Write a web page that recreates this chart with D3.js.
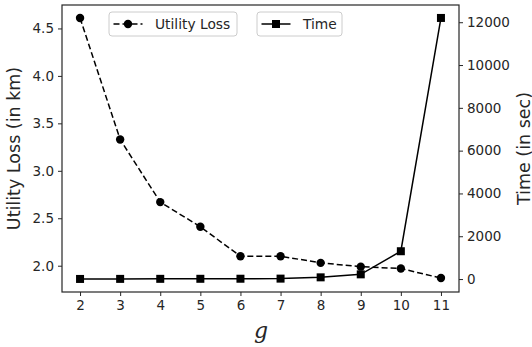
<!DOCTYPE html>
<html><head><meta charset="utf-8">
<script src="https://cdn.jsdelivr.net/npm/d3@7"></script>
<style>
body{margin:0;background:#fff;}
svg text{font-family:"DejaVu Sans",sans-serif;fill:#262626;}
</style></head>
<body><svg id="c" width="532" height="347"></svg>
<script>
const gValues = [2,3,4,5,6,7,8,9,10,11];
const utilityLoss = [4.61,3.33,2.67,2.41,2.10,2.10,2.03,1.99,1.97,1.87];
const timeSec = [5,8,10,12,15,20,80,220,1300,12200];
const leftTicks = [2.0,2.5,3.0,3.5,4.0,4.5];
const rightTicks = [0,2000,4000,6000,8000,10000,12000];
const xLabel = "g";
const leftLabel = "Utility Loss (in km)";
const rightLabel = "Time (in sec)";
const legendNames = ["Utility Loss","Time"];

const svg = d3.select("#c");
const L=62,R=459,T=5,B=292;
const x = d3.scaleLinear().domain([1.55,11.45]).range([L,R]);
const yL = d3.scaleLinear().domain([1.723,4.747]).range([B,T]);
const yR = d3.scaleLinear().domain([-605,12805]).range([B,T]);

const tickLen=4, col="#262626";
// left axis
const ga = svg.append("g").attr("transform",`translate(${L},0)`)
 .call(d3.axisLeft(yL).tickValues(leftTicks).tickFormat(d3.format(".1f")).tickSize(tickLen).tickPadding(4));
const gr = svg.append("g").attr("transform",`translate(${R},0)`)
 .call(d3.axisRight(yR).tickValues(rightTicks).tickFormat(d=>String(d)).tickSize(tickLen).tickPadding(4));
const gb = svg.append("g").attr("transform",`translate(0,${B})`)
 .call(d3.axisBottom(x).tickValues(gValues).tickFormat(d=>String(d)).tickSize(tickLen).tickPadding(4));
[ga,gr,gb].forEach(g=>{
  g.select(".domain").remove();
  g.selectAll("line").attr("stroke",col).attr("stroke-width",1);
  g.selectAll("text").style("font-size","13.5px").style("font-family","DejaVu Sans").attr("fill",col);
});
// frame
svg.append("rect").attr("x",L).attr("y",T).attr("width",R-L).attr("height",B-T)
 .attr("fill","none").attr("stroke",col).attr("stroke-width",1.2);

// lines
const lineU = d3.line().x((d,i)=>x(gValues[i])).y(d=>yL(d));
const lineT = d3.line().x((d,i)=>x(gValues[i])).y(d=>yR(d));
svg.append("path").attr("d",lineU(utilityLoss)).attr("fill","none").attr("stroke","#000")
 .attr("stroke-width",1.5).attr("stroke-dasharray","6,3");
svg.selectAll(".cu").data(utilityLoss).enter().append("circle")
 .attr("cx",(d,i)=>x(gValues[i])).attr("cy",d=>yL(d)).attr("r",4.2).attr("fill","#000");
svg.append("path").attr("d",lineT(timeSec)).attr("fill","none").attr("stroke","#000").attr("stroke-width",1.5);
const s=8;
svg.selectAll(".sq").data(timeSec).enter().append("rect")
 .attr("x",(d,i)=>x(gValues[i])-s/2).attr("y",d=>yR(d)-s/2).attr("width",s).attr("height",s).attr("fill","#000");

// labels
svg.append("text").attr("transform","translate(20,148.5) rotate(-90)").attr("text-anchor","middle")
 .style("font-size","17.5px").text(leftLabel);
svg.append("text").attr("transform","translate(530,148.5) rotate(-90)").attr("text-anchor","middle")
 .style("font-size","17.5px").text(rightLabel);
svg.append("text").attr("x",261).attr("y",338).attr("text-anchor","middle")
 .style("font-family","'DejaVu Serif',serif").style("font-style","italic").style("font-size","22px").attr("fill","#000").text(xLabel);

// legends
function legend(x0,w,name,type){
  const g=svg.append("g");
  g.append("rect").attr("x",x0).attr("y",12).attr("width",w).attr("height",24).attr("rx",3)
   .attr("fill","#fff").attr("fill-opacity",0.8).attr("stroke","#cccccc").attr("stroke-width",1);
  const lx=x0+4.5, cy=24;
  g.append("line").attr("x1",lx).attr("x2",lx+29).attr("y1",cy).attr("y2",cy).attr("stroke","#000")
   .attr("stroke-width",1.5).attr("stroke-dasharray",type==="c"?"6,3":null);
  if(type==="c") g.append("circle").attr("cx",lx+14.5).attr("cy",cy).attr("r",4.2).attr("fill","#000");
  else g.append("rect").attr("x",lx+14.5-s/2).attr("y",cy-s/2).attr("width",s).attr("height",s).attr("fill","#000");
  g.append("text").attr("x",x0+46).attr("y",cy+5).style("font-size","13.8px").text(name);
}
legend(109,128,legendNames[0],"c");
legend(257,85,legendNames[1],"s");
</script></body></html>
